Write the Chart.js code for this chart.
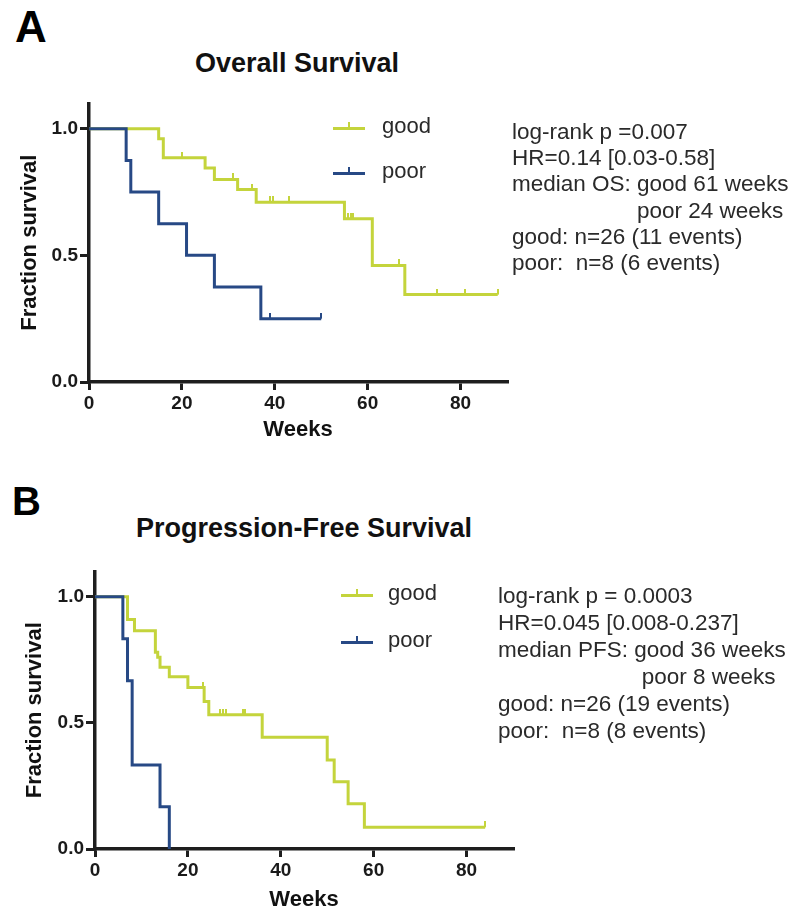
<!DOCTYPE html>
<html>
<head>
<meta charset="utf-8">
<script src="https://cdn.jsdelivr.net/npm/chart.js@4/dist/chart.umd.min.js"></script>
<style>
  body { margin: 0; width: 800px; height: 918px; position: relative; overflow: hidden; background: #fff;
         font-family: "Liberation Sans", Arial, sans-serif; color: #2a2a2a; }
  .abs { position: absolute; white-space: pre; }
  .panel { font-weight: bold; color: #000; line-height: 1; }
  .title { font-weight: bold; font-size: 27px; line-height: 1; color: #111; transform: translateX(-50%); }
  .stats { font-size: 22.5px; }
  canvas { position: absolute; left: 0; }
  .sym { position: absolute; height: 3px; width: 32px; }
  .sym b { position: absolute; left: 15px; top: -5px; width: 2px; height: 6px; background: inherit; }
  .legtxt { position: absolute; font-size: 22px; line-height: 1; }
</style>
</head>
<body>
<div class="abs panel" style="left:15px;top:5px;font-size:44px">A</div>
<div class="abs title" style="left:297px;top:50px">Overall Survival</div>
<canvas id="osChart" width="530" height="360" style="top:90px"></canvas>
<div class="abs stats" style="left:512px;top:119px;line-height:26.2px">log-rank p =0.007
HR=0.14 [0.03-0.58]
median OS: good 61 weeks
                    poor 24 weeks
good: n=26 (11 events)
poor:  n=8 (6 events)</div>

<div class="abs panel" style="left:12px;top:481px;font-size:40px">B</div>
<div class="abs title" style="left:304px;top:515px">Progression-Free Survival</div>
<canvas id="pfsChart" width="540" height="363" style="top:555px"></canvas>
<div class="abs stats" style="left:498px;top:582px;line-height:27px">log-rank p = 0.0003
HR=0.045 [0.008-0.237]
median PFS: good 36 weeks
                       poor 8 weeks
good: n=26 (19 events)
poor:  n=8 (8 events)</div>

<script>
// panel A: overall survival (weeks where the curve steps, survival after the step)
const osGoodWeeks = [0, 15, 16, 25, 27, 32, 36, 55, 61, 68, 88];
const osGoodSurv = [1, 0.96, 0.885, 0.845, 0.80, 0.76, 0.71, 0.645, 0.46, 0.345, 0.345];
const osGoodCensored = [20, 31, 35, 39, 39.6, 43, 55.8, 56.4, 56.8, 66.8, 75, 81, 88];
const osPoorWeeks = [0, 8, 9, 15, 21, 27, 37, 50];
const osPoorSurv = [1, 0.875, 0.75, 0.625, 0.5, 0.375, 0.25, 0.25];
const osPoorCensored = [39, 50];

// panel B: progression-free survival
const pfsGoodWeeks = [0, 7, 8.5, 13, 13.5, 14, 16, 20, 23.5, 24.5, 36, 50, 51.5, 54.5, 58, 84];
const pfsGoodSurv = [1, 0.91, 0.865, 0.78, 0.76, 0.72, 0.683, 0.64, 0.585, 0.532, 0.443, 0.353, 0.267, 0.179, 0.086, 0.086];
const pfsGoodCensored = [23.2, 26.9, 27.5, 28.3, 31.9, 32.4, 84];
const pfsPoorWeeks = [0, 6, 7, 8, 14, 16];
const pfsPoorSurv = [1, 0.833, 0.667, 0.333, 0.167, 0];
const pfsPoorCensored = [];

const groups = ['good', 'poor'];
const weekTicks = [0, 20, 40, 60, 80];
const fractionTicks = [0, 0.5, 1.0];

const GREEN = '#c4d43c', BLUE = '#274985', AXIS = '#1e1e1e';
const FAMILY = '"Liberation Sans", Arial, sans-serif';
const $ = id => document.getElementById(id);

// censor mark: short vertical stroke sitting on top of the curve
const tickImg = color => {
  const c = document.createElement('canvas');
  c.width = 2; c.height = 12;
  const g = c.getContext('2d');
  g.fillStyle = color;
  g.fillRect(0, 0, 2, 6);
  return c;
};
const survAt = (weeks, surv, t) => {
  let i = 0;
  while (i + 1 < weeks.length && weeks[i + 1] <= t) i++;
  return surv[i];
};

function kmChart(id, curves, lay) {
  const datasets = [];
  curves.forEach(c => {
    // 'before' = run flat at the old value, then drop at the event week
    datasets.push({
      label: c.label, data: c.weeks.map((x, i) => ({ x, y: c.surv[i] })),
      borderColor: c.color, borderWidth: 3, stepped: 'before', pointRadius: 0, order: c.order, clip: false
    });
    datasets.push({
      label: c.label + ' censored', data: c.censored.map(x => ({ x, y: survAt(c.weeks, c.surv, x) })),
      showLine: false, pointStyle: tickImg(c.color), pointRadius: 3, order: c.order, clip: false
    });
  });
  const tickFont = { family: FAMILY, size: 19, weight: 'bold' };
  const titleFont = { family: FAMILY, size: 22, weight: 'bold' };
  return new Chart($(id), {
    type: 'line',
    data: { datasets },
    options: {
      responsive: false, animation: false,
      layout: { padding: { top: lay.padTop, right: lay.padRight, left: 0, bottom: 0 } },
      plugins: { legend: { display: false }, tooltip: { enabled: false } },
      scales: {
        x: {
          type: 'linear', min: 0, max: 90,
          afterBuildTicks: s => { s.ticks = weekTicks.map(value => ({ value })); },
          afterFit: s => { s.height = lay.xHeight; },
          grid: { drawOnChartArea: false, color: AXIS, lineWidth: 3, tickLength: 8 },
          border: { color: AXIS, width: 3.5 },
          ticks: { color: '#1a1a1a', font: tickFont, padding: 2, maxRotation: 0 },
          title: { display: true, text: 'Weeks', color: '#111', font: titleFont, padding: { top: 0, bottom: lay.weeksPad } }
        },
        y: {
          min: 0, max: 1.1,
          afterBuildTicks: s => { s.ticks = fractionTicks.map(value => ({ value })); },
          afterFit: s => { s.width = lay.yWidth; },
          grid: { drawOnChartArea: false, color: AXIS, lineWidth: 3, tickLength: 9 },
          border: { color: AXIS, width: 3.5 },
          ticks: { color: '#1a1a1a', font: tickFont, padding: 2, callback: v => Number(v).toFixed(1) },
          title: { display: true, text: 'Fraction survival', color: '#111', font: titleFont, padding: { top: lay.fracPad, bottom: 0 } }
        }
      }
    }
  });
}

function legend(lineX, textX, rowsY) {
  [GREEN, BLUE].forEach((color, i) => {
    const sym = document.createElement('div');
    sym.className = 'sym';
    sym.style.cssText = `left:${lineX}px;top:${rowsY[i] - 1.5}px;background:${color}`;
    sym.appendChild(document.createElement('b'));
    document.body.appendChild(sym);
    const txt = document.createElement('div');
    txt.className = 'legtxt';
    txt.textContent = groups[i];
    txt.style.cssText = `left:${textX}px;top:${rowsY[i] - 13}px`;
    document.body.appendChild(txt);
  });
}

kmChart('osChart', [
  { label: groups[0], weeks: osGoodWeeks, surv: osGoodSurv, censored: osGoodCensored, color: GREEN, order: 2 },
  { label: groups[1], weeks: osPoorWeeks, surv: osPoorSurv, censored: osPoorCensored, color: BLUE, order: 1 }
], { padTop: 13, padRight: 23, xHeight: 68, yWidth: 89, weeksPad: 7, fracPad: 17 });

kmChart('pfsChart', [
  { label: groups[0], weeks: pfsGoodWeeks, surv: pfsGoodSurv, censored: pfsGoodCensored, color: GREEN, order: 2 },
  { label: groups[1], weeks: pfsPoorWeeks, surv: pfsPoorSurv, censored: pfsPoorCensored, color: BLUE, order: 1 }
], { padTop: 16.5, padRight: 27, xHeight: 69, yWidth: 95, weeksPad: 5, fracPad: 22 });

legend(333, 382, [128, 173]);
legend(341, 388, [595, 642]);
</script>
</body>
</html>
